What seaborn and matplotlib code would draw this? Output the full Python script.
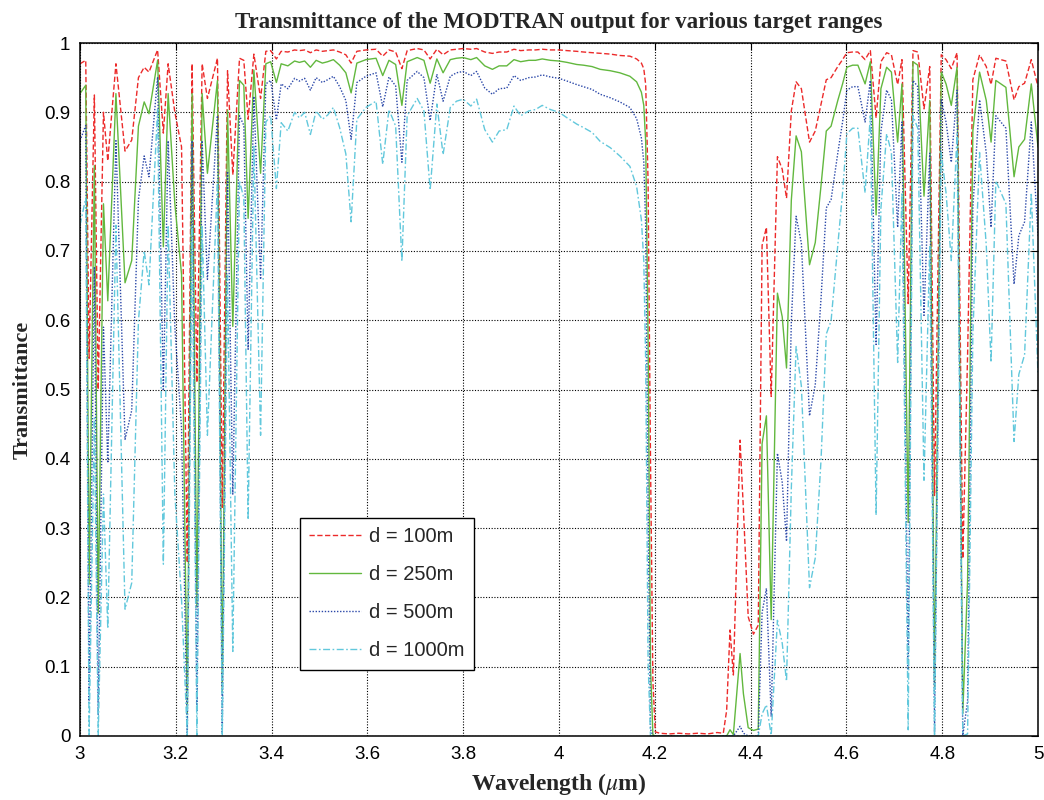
import matplotlib
matplotlib.use("Agg")
import matplotlib.pyplot as plt
from matplotlib.ticker import FormatStrFormatter
import seaborn as sns

# ---------------- data ----------------
wavelength = [
    3.000, 3.012, 3.019, 3.030, 3.038, 3.049, 3.058, 3.075, 3.094, 3.108,
    3.122, 3.134, 3.144, 3.162, 3.174, 3.184, 3.198, 3.212, 3.224, 3.234,
    3.244, 3.255, 3.266, 3.287, 3.297, 3.308, 3.319, 3.333, 3.342, 3.351,
    3.363, 3.377, 3.388,
    3.398, 3.410, 3.420, 3.434, 3.448, 3.458, 3.469, 3.481, 3.493, 3.506,
    3.517, 3.529, 3.542, 3.555, 3.566, 3.578, 3.597, 3.618, 3.632, 3.645,
    3.659, 3.672, 3.683, 3.704, 3.718, 3.731, 3.745, 3.758, 3.773, 3.786,
    3.800, 3.816, 3.828, 3.845, 3.861, 3.875, 3.891, 3.906, 3.920, 3.937,
    3.951, 3.965, 3.982, 4.000, 4.017, 4.037, 4.051, 4.069, 4.086, 4.107,
    4.127, 4.148, 4.162, 4.172, 4.177, 4.181, 4.186, 4.191, 4.196, 4.201,
    4.210, 4.230, 4.250, 4.270, 4.290, 4.310, 4.330, 4.343,
    4.350, 4.357, 4.364, 4.378, 4.385, 4.395, 4.406, 4.416, 4.424, 4.433,
    4.443, 4.456, 4.466, 4.475, 4.485, 4.495, 4.506, 4.523, 4.535, 4.547,
    4.558, 4.568, 4.582, 4.592, 4.601, 4.613, 4.624, 4.639, 4.650, 4.662,
    4.672, 4.684, 4.694, 4.707, 4.716, 4.729, 4.739, 4.749, 4.762, 4.774,
    4.784, 4.798, 4.808, 4.819, 4.831, 4.843, 4.853, 4.864, 4.878, 4.892,
    4.902, 4.912, 4.933, 4.950, 4.960, 4.972, 4.986, 5.000,
]

t_100m = [
    0.970, 0.975, 0.545, 0.925, 0.500, 0.900, 0.830, 0.970, 0.844, 0.860,
    0.950, 0.965, 0.958, 0.990, 0.870, 0.970, 0.900, 0.850, 0.250, 0.970,
    0.510, 0.970, 0.920, 0.978, 0.330, 0.960, 0.810, 0.978, 0.975, 0.890,
    0.984, 0.920, 0.988,
    0.989, 0.977, 0.988, 0.987, 0.990, 0.989, 0.990, 0.986, 0.990, 0.988,
    0.989, 0.990, 0.987, 0.983, 0.971, 0.988, 0.990, 0.991, 0.981, 0.990,
    0.987, 0.963, 0.989, 0.992, 0.990, 0.977, 0.991, 0.983, 0.990, 0.991,
    0.992, 0.991, 0.992, 0.987, 0.985, 0.987, 0.987, 0.991, 0.989, 0.990,
    0.990, 0.991, 0.990, 0.990, 0.989, 0.988, 0.987, 0.986, 0.985, 0.984,
    0.982, 0.981, 0.977, 0.971, 0.963, 0.940, 0.800, 0.400, 0.080, 0.006,
    0.004, 0.003, 0.004, 0.003, 0.004, 0.003, 0.005, 0.004,
    0.037, 0.153, 0.088, 0.427, 0.327, 0.172, 0.147, 0.160, 0.708, 0.734,
    0.490, 0.836, 0.818, 0.776, 0.902, 0.944, 0.934, 0.857, 0.873, 0.912,
    0.947, 0.950, 0.966, 0.976, 0.986, 0.987, 0.987, 0.976, 0.989, 0.892,
    0.973, 0.986, 0.983, 0.940, 0.976, 0.624, 0.989, 0.987, 0.905, 0.966,
    0.347, 0.983, 0.976, 0.963, 0.986, 0.256, 0.550, 0.947, 0.983, 0.966,
    0.940, 0.978, 0.974, 0.918, 0.937, 0.942, 0.976, 0.937,
]

t_250m = [
    0.927, 0.939, 0.219, 0.823, 0.177, 0.768, 0.628, 0.927, 0.654, 0.686,
    0.880, 0.915, 0.898, 0.975, 0.706, 0.927, 0.768, 0.666, 0.031, 0.927,
    0.186, 0.927, 0.812, 0.946, 0.063, 0.903, 0.591, 0.946, 0.939, 0.747,
    0.961, 0.812, 0.970,
    0.973, 0.943, 0.970, 0.967, 0.974, 0.972, 0.974, 0.965, 0.975, 0.971,
    0.973, 0.976, 0.968, 0.957, 0.928, 0.971, 0.976, 0.978, 0.953, 0.975,
    0.969, 0.910, 0.973, 0.979, 0.975, 0.942, 0.977, 0.957, 0.976, 0.978,
    0.979, 0.976, 0.979, 0.967, 0.962, 0.967, 0.967, 0.976, 0.973, 0.975,
    0.975, 0.977, 0.975, 0.974, 0.972, 0.969, 0.968, 0.966, 0.962, 0.960,
    0.957, 0.952, 0.944, 0.929, 0.910, 0.857, 0.572, 0.101, 0.002, 0.000,
    0.000, 0.000, 0.000, 0.000, 0.000, 0.000, 0.000, 0.000,
    0.000, 0.009, 0.002, 0.119, 0.061, 0.012, 0.008, 0.010, 0.422, 0.462,
    0.168, 0.639, 0.605, 0.531, 0.773, 0.866, 0.843, 0.680, 0.712, 0.794,
    0.873, 0.880, 0.917, 0.941, 0.965, 0.968, 0.968, 0.941, 0.973, 0.752,
    0.934, 0.965, 0.958, 0.857, 0.941, 0.308, 0.973, 0.968, 0.779, 0.917,
    0.071, 0.958, 0.941, 0.910, 0.965, 0.033, 0.224, 0.873, 0.958, 0.917,
    0.857, 0.946, 0.936, 0.807, 0.850, 0.861, 0.941, 0.850,
]

t_500m = [
    0.859, 0.881, 0.048, 0.677, 0.031, 0.590, 0.394, 0.859, 0.428, 0.470,
    0.774, 0.837, 0.807, 0.951, 0.498, 0.859, 0.590, 0.444, 0.001, 0.859,
    0.035, 0.859, 0.659, 0.895, 0.004, 0.815, 0.349, 0.895, 0.881, 0.558,
    0.923, 0.659, 0.941,
    0.946, 0.889, 0.941, 0.934, 0.949, 0.945, 0.949, 0.932, 0.950, 0.943,
    0.947, 0.952, 0.937, 0.917, 0.861, 0.943, 0.952, 0.957, 0.908, 0.951,
    0.938, 0.828, 0.946, 0.959, 0.950, 0.888, 0.955, 0.916, 0.952, 0.957,
    0.959, 0.953, 0.959, 0.935, 0.926, 0.934, 0.935, 0.953, 0.946, 0.950,
    0.951, 0.954, 0.951, 0.949, 0.945, 0.940, 0.937, 0.933, 0.926, 0.921,
    0.915, 0.907, 0.891, 0.863, 0.828, 0.734, 0.328, 0.010, 0.000, 0.000,
    0.000, 0.000, 0.000, 0.000, 0.000, 0.000, 0.000, 0.000,
    0.000, 0.000, 0.000, 0.014, 0.004, 0.000, 0.000, 0.000, 0.178, 0.213,
    0.028, 0.408, 0.366, 0.281, 0.597, 0.750, 0.711, 0.462, 0.507, 0.631,
    0.762, 0.774, 0.841, 0.886, 0.932, 0.937, 0.937, 0.886, 0.946, 0.565,
    0.872, 0.932, 0.918, 0.734, 0.886, 0.095, 0.946, 0.937, 0.607, 0.841,
    0.005, 0.918, 0.886, 0.828, 0.932, 0.001, 0.050, 0.762, 0.918, 0.841,
    0.734, 0.895, 0.877, 0.652, 0.722, 0.742, 0.886, 0.722,
]

t_1000m = [
    0.737, 0.776, 0.002, 0.459, 0.001, 0.349, 0.155, 0.737, 0.183, 0.221,
    0.599, 0.700, 0.651, 0.904, 0.248, 0.737, 0.349, 0.197, 0.000, 0.737,
    0.001, 0.737, 0.434, 0.801, 0.000, 0.665, 0.122, 0.801, 0.776, 0.312,
    0.851, 0.434, 0.886,
    0.895, 0.790, 0.885, 0.873, 0.900, 0.892, 0.900, 0.868, 0.902, 0.890,
    0.896, 0.907, 0.878, 0.840, 0.742, 0.890, 0.907, 0.916, 0.825, 0.904,
    0.880, 0.685, 0.895, 0.920, 0.902, 0.788, 0.912, 0.839, 0.907, 0.916,
    0.919, 0.909, 0.919, 0.875, 0.857, 0.873, 0.875, 0.909, 0.895, 0.902,
    0.904, 0.910, 0.904, 0.900, 0.892, 0.883, 0.878, 0.871, 0.858, 0.849,
    0.837, 0.822, 0.793, 0.745, 0.686, 0.539, 0.107, 0.000, 0.000, 0.000,
    0.000, 0.000, 0.000, 0.000, 0.000, 0.000, 0.000, 0.000,
    0.000, 0.000, 0.000, 0.000, 0.000, 0.000, 0.000, 0.000, 0.032, 0.045,
    0.001, 0.167, 0.134, 0.079, 0.357, 0.562, 0.505, 0.214, 0.257, 0.398,
    0.580, 0.599, 0.708, 0.784, 0.869, 0.877, 0.877, 0.784, 0.895, 0.319,
    0.761, 0.869, 0.842, 0.539, 0.784, 0.009, 0.895, 0.877, 0.369, 0.708,
    0.000, 0.842, 0.784, 0.686, 0.869, 0.000, 0.003, 0.580, 0.842, 0.708,
    0.539, 0.801, 0.768, 0.425, 0.522, 0.550, 0.784, 0.522,
]

series_labels = ["d = 100m", "d = 250m", "d = 500m", "d = 1000m"]
x_ticks = [3.0, 3.2, 3.4, 3.6, 3.8, 4.0, 4.2, 4.4, 4.6, 4.8, 5.0]
y_ticks = [0.0, 0.1, 0.2, 0.3, 0.4, 0.5, 0.6, 0.7, 0.8, 0.9, 1.0]

# ---------------- style ----------------
sns.set_style("white")
plt.rcParams["font.family"] = ["Liberation Sans", "DejaVu Sans"]
plt.rcParams["mathtext.fontset"] = "stix"

colors = ["#ec2a2a", "#62b83e", "#2a47a8", "#62c8dc"]
linestyles = [(0, (3.8, 1.8)), "-", (0, (1.0, 1.2)), (0, (5.0, 1.8, 1.2, 1.8))]

fig = plt.figure(figsize=(10.44, 8.0), dpi=100)
ax = fig.add_axes([80 / 1044, 64 / 800, 958 / 1044, 693 / 800])

for vals, lab, col, ls in zip([t_100m, t_250m, t_500m, t_1000m], series_labels, colors, linestyles):
    sns.lineplot(x=wavelength, y=vals, ax=ax, color=col, linestyle=ls, linewidth=1.0,
                 label=lab, estimator=None, sort=False)

ax.set_xlim(3, 5)
ax.set_ylim(0, 1)
ax.set_xticks(x_ticks)
ax.set_yticks(y_ticks)
ax.xaxis.set_major_formatter(FormatStrFormatter("%g"))
ax.yaxis.set_major_formatter(FormatStrFormatter("%g"))
ax.grid(True, color="black", linestyle=(0, (1, 1.5)), linewidth=0.8)
ax.set_axisbelow(True)
for sp in ax.spines.values():
    sp.set_color("black")
    sp.set_linewidth(1.1)
ax.tick_params(direction="in", length=5, width=0.8, top=True, right=True,
               labelsize=13.5, colors="black", pad=7)

ax.set_title("Transmittance of the MODTRAN output for various target ranges",
             fontfamily="Liberation Serif", fontweight="bold", fontsize=16.5, pad=11)
ax.set_xlabel(r"Wavelength ($\mu$m)", fontfamily="Liberation Serif", fontweight="bold",
              fontsize=17, labelpad=6)
ax.set_ylabel("Transmittance", fontfamily="Liberation Serif", fontweight="bold",
              fontsize=16, labelpad=8)

leg = ax.legend(loc="upper left", bbox_to_anchor=(0.2296, 0.3146), borderaxespad=0,
                fontsize=14.5, frameon=True, fancybox=False, framealpha=1,
                edgecolor="black", handlelength=2.6, handletextpad=0.4,
                labelspacing=0.95, borderpad=0.45)
leg.get_frame().set_linewidth(1.0)

fig.savefig("out.png", dpi=100)
